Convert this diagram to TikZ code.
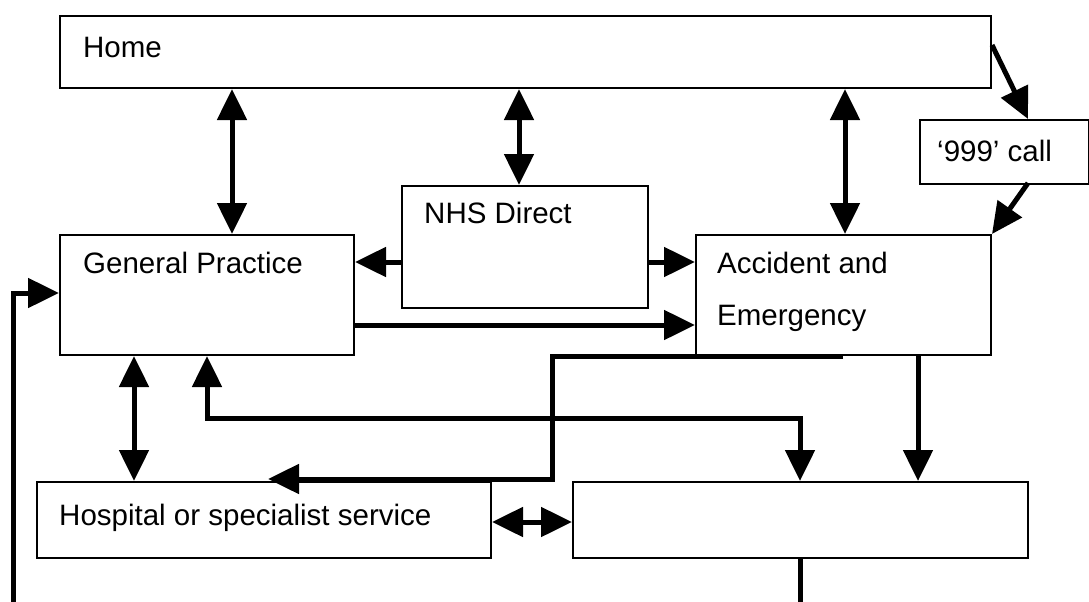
\documentclass[tikz,border=0pt]{standalone}
\usepackage{fontspec}
\setmainfont{Liberation Sans}
\usetikzlibrary{arrows.meta}
\begin{document}
\begin{tikzpicture}[x=1pt,y=-1pt,
  box/.style={draw,line width=2pt,rectangle,inner sep=0pt,anchor=north west},
  txt/.style={anchor=base west,inner sep=0pt,font=\fontsize{29.5}{35}\selectfont},
  tip/.style={Triangle[length=31pt,width=29pt]},
  link/.style={line width=5pt,-{Triangle[length=31pt,width=29pt]}},
  both/.style={line width=5pt,{Triangle[length=31pt,width=29pt]}-{Triangle[length=31pt,width=29pt]}},
  plain/.style={line width=5pt}]
\useasboundingbox (0,0) rectangle (1089,602);

% boxes
\node[box,minimum width=931pt,minimum height=72pt] (home) at (59,15) {};
\node[box,minimum width=169pt,minimum height=64pt] (call) at (919,119) {};
\node[box,minimum width=246pt,minimum height=122pt] (nhs) at (401,185) {};
\node[box,minimum width=294pt,minimum height=120pt] (gp) at (59,234) {};
\node[box,minimum width=295pt,minimum height=120pt] (ae) at (695,234) {};
\node[box,minimum width=454pt,minimum height=76pt] (hosp) at (36,481) {};
\node[box,minimum width=455pt,minimum height=76pt] (other) at (572,481) {};

% labels
\node[txt] (thome) at (83,57) {Home};
\node[txt] (tcall) at (937,161) {‘999’ call};
\node[txt] (tnhs) at (424,223) {NHS Direct};
\node[txt] (tgp) at (83,273) {General Practice};
\node[txt] (tae1) at (717,273) {Accident and};
\node[txt] (tae2) at (717,325) {Emergency};
\node[txt] (thosp) at (59,525) {Hospital or specialist service};

% home links
\draw[both] (home.south -| 232,0) -- (gp.north -| 232,0);
\draw[both] (home.south -| 519,0) -- (nhs.north -| 519,0);
\draw[both] (home.south -| 845,0) -- (ae.north -| 845,0);

% emergency call route
\draw[link] (home.north east |- 0,45) -- (1028,119);
\draw[link] (1028,183) -- (ae.north east);

% NHS Direct referrals
\draw[link] (nhs.west |- 0,262) -- (gp.east |- 0,262);
\draw[link] (nhs.east |- 0,262) -- (ae.west |- 0,262);
\draw[link] (gp.east |- 0,325) -- (ae.west |- 0,325);

% lower links
\draw[both] (gp.south -| 134,0) -- (hosp.north -| 134,0);
\draw[both] (gp.south -| 207,0) -- (207,418) -- (800,418) -- (other.north -| 800,0);
\draw[link] (ae.south -| 918,0) -- (other.north -| 918,0);
\coordinate (hosptip) at (268,479);
\draw[link] (ae.south -| 843,0) -- (552,356) -- (552,479) -- (hosptip);
\draw[both] (hosp.east |- 0,522) -- (other.west |- 0,522);

% lines leaving the picture
\coordinate (leftend) at (13,602);
\draw[link] (leftend) -- (13,293) -- (gp.west |- 0,293);
\coordinate (bottomend) at (800,602);
\draw[plain] (other.south -| 800,0) -- (bottomend);
\end{tikzpicture}
\end{document}
